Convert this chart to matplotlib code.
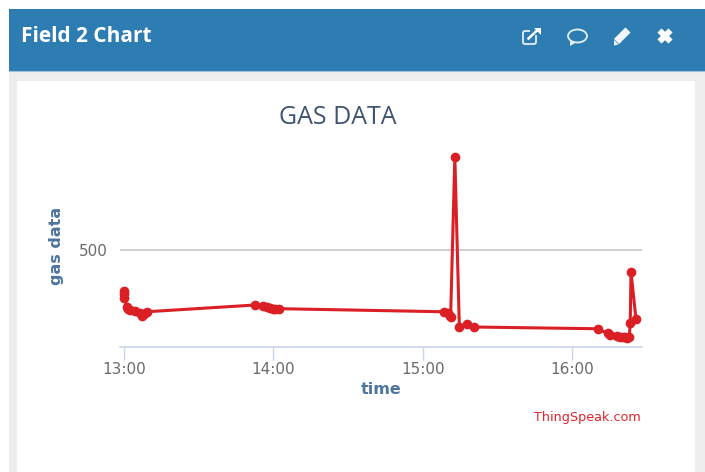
import matplotlib

matplotlib.use("Agg")
import matplotlib.pyplot as plt
from matplotlib.patches import Ellipse, FancyBboxPatch, Polygon, Rectangle
from matplotlib.ticker import FixedLocator, FuncFormatter

W, H = 705, 472

# minutes after 13:00
minutes = [
    0, 0, 0.2, 1.1, 1.8, 2.4, 4.4, 6.4, 7.4, 8.0, 9.1,
    52.6, 55.9, 57.5, 58.6, 60.0, 60.6, 62.2,
    128.4, 130.2, 130.8, 131.1, 132.8, 134.6, 137.5, 140.5,
    190.1, 194.1, 195, 197.7, 199.0, 200.1, 201.0, 201.7, 202.8, 203.2, 203.5, 205.5,
]
gas = [
    289, 272, 251, 206, 195, 189, 185, 174, 160, 168, 180,
    215, 210, 204, 201, 196, 194, 196,
    180, 172, 160, 154, 982, 103, 117, 101,
    92, 68, 60, 54, 50, 48, 47, 46, 51, 120, 387, 142,
]
x_ticks = [0, 60, 120, 180]
y_ticks = [500]

BLUE = "#2e7db2"
GREY = "#eeeeee"
RED = "#da1f25"
AXIS_BLUE = "#4d759e"
ICON = "#e6eff5"

fig = plt.figure(figsize=(W / 100, H / 100), dpi=100, facecolor="white")

# page chrome, drawn in pixel coordinates
bg = fig.add_axes([0, 0, 1, 1])
bg.set_xlim(0, W)
bg.set_ylim(H, 0)
bg.axis("off")
bg.add_patch(Rectangle((9, 71), W - 9, H - 71, color=GREY, lw=0))
bg.add_patch(Rectangle((17, 81), 678, H - 81, color="white", lw=0))
bg.add_patch(Rectangle((9, 9), W - 9, 62, color=BLUE, lw=0))
bg.plot([9, W], [71, 71], color="#9cc0da", lw=0.8)
bg.text(21, 36.5, "Field 2 Chart", color="white", fontsize=15, fontweight="bold",
        family="Open Sans", ha="left", va="center")

# header icons
bg.add_patch(FancyBboxPatch((523, 31), 13, 13, boxstyle="round,pad=0,rounding_size=2",
                            fill=False, ec=ICON, lw=1.3))
bg.add_patch(Rectangle((530, 26), 11, 9, color=BLUE, lw=0))
bg.plot([528.5, 537], [38.5, 30.5], color="white", lw=1.8)
bg.add_patch(Polygon([[534, 28], [541, 28], [541, 35]], color="white", lw=0))
bg.add_patch(Ellipse((577.5, 36), 19, 13, fill=False, ec=ICON, lw=1.3))
bg.add_patch(Polygon([[570, 41], [570, 46], [576, 42.5]], color=ICON, lw=0))
bg.plot([616.5, 628], [41.5, 30], color="#f2f6f9", lw=5.2, solid_capstyle="butt")
bg.add_patch(Polygon([[614, 40], [618.5, 44.5], [614, 45.5]], color="#f2f6f9", lw=0))
bg.plot([659.5, 670.5], [30.5, 41.5], color="white", lw=4.2, solid_capstyle="butt")
bg.plot([659.5, 670.5], [41.5, 30.5], color="white", lw=4.2, solid_capstyle="butt")

bg.text(338, 117, "GAS DATA", color="#3e5470", fontsize=18, family="Open Sans",
        ha="center", va="center")
bg.text(641, 417, "ThingSpeak.com", color="#e0252b", fontsize=9.2, family="DejaVu Sans",
        ha="right", va="center")

# plot area
left, right, top, bottom = 120, 641.7, 140, 346.5
ax = fig.add_axes([left / W, 1 - bottom / H, (right - left) / W, (bottom - top) / H])
ax.patch.set_alpha(0)
ax.set_xlim(-1.6, 207.8)
ax.set_ylim(0, 1070)

ax.plot(minutes, gas, color=RED, lw=2.2, marker="o", ms=7, mew=0, clip_on=False, zorder=3)

ax.xaxis.set_major_locator(FixedLocator(x_ticks))
ax.xaxis.set_major_formatter(FuncFormatter(lambda v, _: f"{13 + int(v) // 60}:{int(v) % 60:02d}"))
ax.yaxis.set_major_locator(FixedLocator(y_ticks))
ax.grid(axis="y", color="#c6c6c6", lw=1.2)
ax.set_axisbelow(True)

for side in ["top", "right", "left"]:
    ax.spines[side].set_visible(False)
ax.spines["bottom"].set_color("#c7d6e8")
ax.spines["bottom"].set_linewidth(1.2)
ax.tick_params(axis="x", length=9, width=1, color="#c7d6e8", labelsize=11,
               labelcolor="#6b6b6b", pad=2)
ax.tick_params(axis="y", length=0, labelsize=11, labelcolor="#6b6b6b", pad=9)

bg.text(381, 390, "time", color=AXIS_BLUE, fontsize=11.5, fontweight="bold",
        family="DejaVu Sans", ha="center", va="center")
bg.text(56, 246, "gas data", color=AXIS_BLUE, fontsize=11.5, fontweight="bold",
        family="DejaVu Sans", rotation=90, ha="center", va="center")

fig.savefig("out.png", dpi=100)
